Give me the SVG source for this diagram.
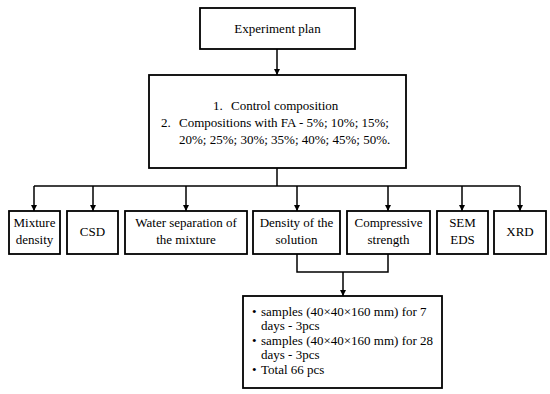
<svg xmlns="http://www.w3.org/2000/svg" width="550" height="394" viewBox="0 0 550 394">
<style>
.box{fill:#fff;stroke:#000;stroke-width:1.8}
.ln{fill:none;stroke:#000;stroke-width:1.5}
text{font-family:'Liberation Serif','Times New Roman',Tinos,'DejaVu Serif',serif;font-size:13px;fill:#000}
.c{text-anchor:middle}
</style>
<defs>
<marker id="ah" markerUnits="userSpaceOnUse" markerWidth="8" markerHeight="8" refX="6" refY="3" orient="auto">
<path d="M0,0 L6,3 L0,6 Z" fill="#000"/>
</marker>
</defs>
<rect width="550" height="394" fill="#fff"/>
<g id="connectors">
<path class="ln" d="M277,49 V75" marker-end="url(#ah)"/>
<path class="ln" d="M277,168 V186"/>
<path class="ln" d="M34,186 H520"/>
<path class="ln" d="M34,186 V211" marker-end="url(#ah)"/>
<path class="ln" d="M93,186 V211" marker-end="url(#ah)"/>
<path class="ln" d="M186,186 V211" marker-end="url(#ah)"/>
<path class="ln" d="M297,186 V211" marker-end="url(#ah)"/>
<path class="ln" d="M388,186 V211" marker-end="url(#ah)"/>
<path class="ln" d="M462,186 V211" marker-end="url(#ah)"/>
<path class="ln" d="M520,186 V211" marker-end="url(#ah)"/>
<path class="ln" d="M297,254 V272 H388 V254"/>
<path class="ln" d="M343,272 V296" marker-end="url(#ah)"/>
</g>
<g id="plan">
<rect class="box" x="200" y="8" width="155" height="41"/>
<text class="c" x="277.5" y="33">Experiment plan</text>
</g>
<g id="compositions">
<rect class="box" x="149" y="75" width="257" height="93"/>
<text x="213" y="110">1.</text><text x="231" y="110">Control composition</text>
<text x="161" y="127">2.</text><text x="179" y="127">Compositions with FA - 5%; 10%; 15%;</text>
<text x="179" y="144">20%; 25%; 30%; 35%; 40%; 45%; 50%.</text>
</g>
<g id="mixture-density">
<rect class="box" x="9" y="211" width="51" height="43"/>
<text class="c" x="34.5" y="227">Mixture</text>
<text class="c" x="34.5" y="244">density</text>
</g>
<g id="csd">
<rect class="box" x="67" y="211" width="51" height="43"/>
<text class="c" x="92.5" y="236">CSD</text>
</g>
<g id="water-separation">
<rect class="box" x="125" y="211" width="122" height="43"/>
<text class="c" x="186" y="227">Water separation of</text>
<text class="c" x="186" y="244">the mixture</text>
</g>
<g id="density-solution">
<rect class="box" x="253" y="211" width="87" height="43"/>
<text class="c" x="296.5" y="227">Density of the</text>
<text class="c" x="296.5" y="244">solution</text>
</g>
<g id="compressive-strength">
<rect class="box" x="347" y="211" width="83" height="43"/>
<text class="c" x="388.5" y="227">Compressive</text>
<text class="c" x="388.5" y="244">strength</text>
</g>
<g id="sem-eds">
<rect class="box" x="437" y="211" width="51" height="43"/>
<text class="c" x="462.5" y="227">SEM</text>
<text class="c" x="462.5" y="244">EDS</text>
</g>
<g id="xrd">
<rect class="box" x="494" y="211" width="52" height="43"/>
<text class="c" x="520" y="236">XRD</text>
</g>
<g id="samples">
<rect class="box" x="243" y="296" width="199" height="92"/>
<text x="252" y="316">•</text><text x="261" y="316">samples (40×40×160 mm) for 7</text>
<text x="261" y="330">days - 3pcs</text>
<text x="252" y="345">•</text><text x="261" y="345">samples (40×40×160 mm) for 28</text>
<text x="261" y="359">days - 3pcs</text>
<text x="252" y="374">•</text><text x="261" y="374">Total 66 pcs</text>
</g>
</svg>
